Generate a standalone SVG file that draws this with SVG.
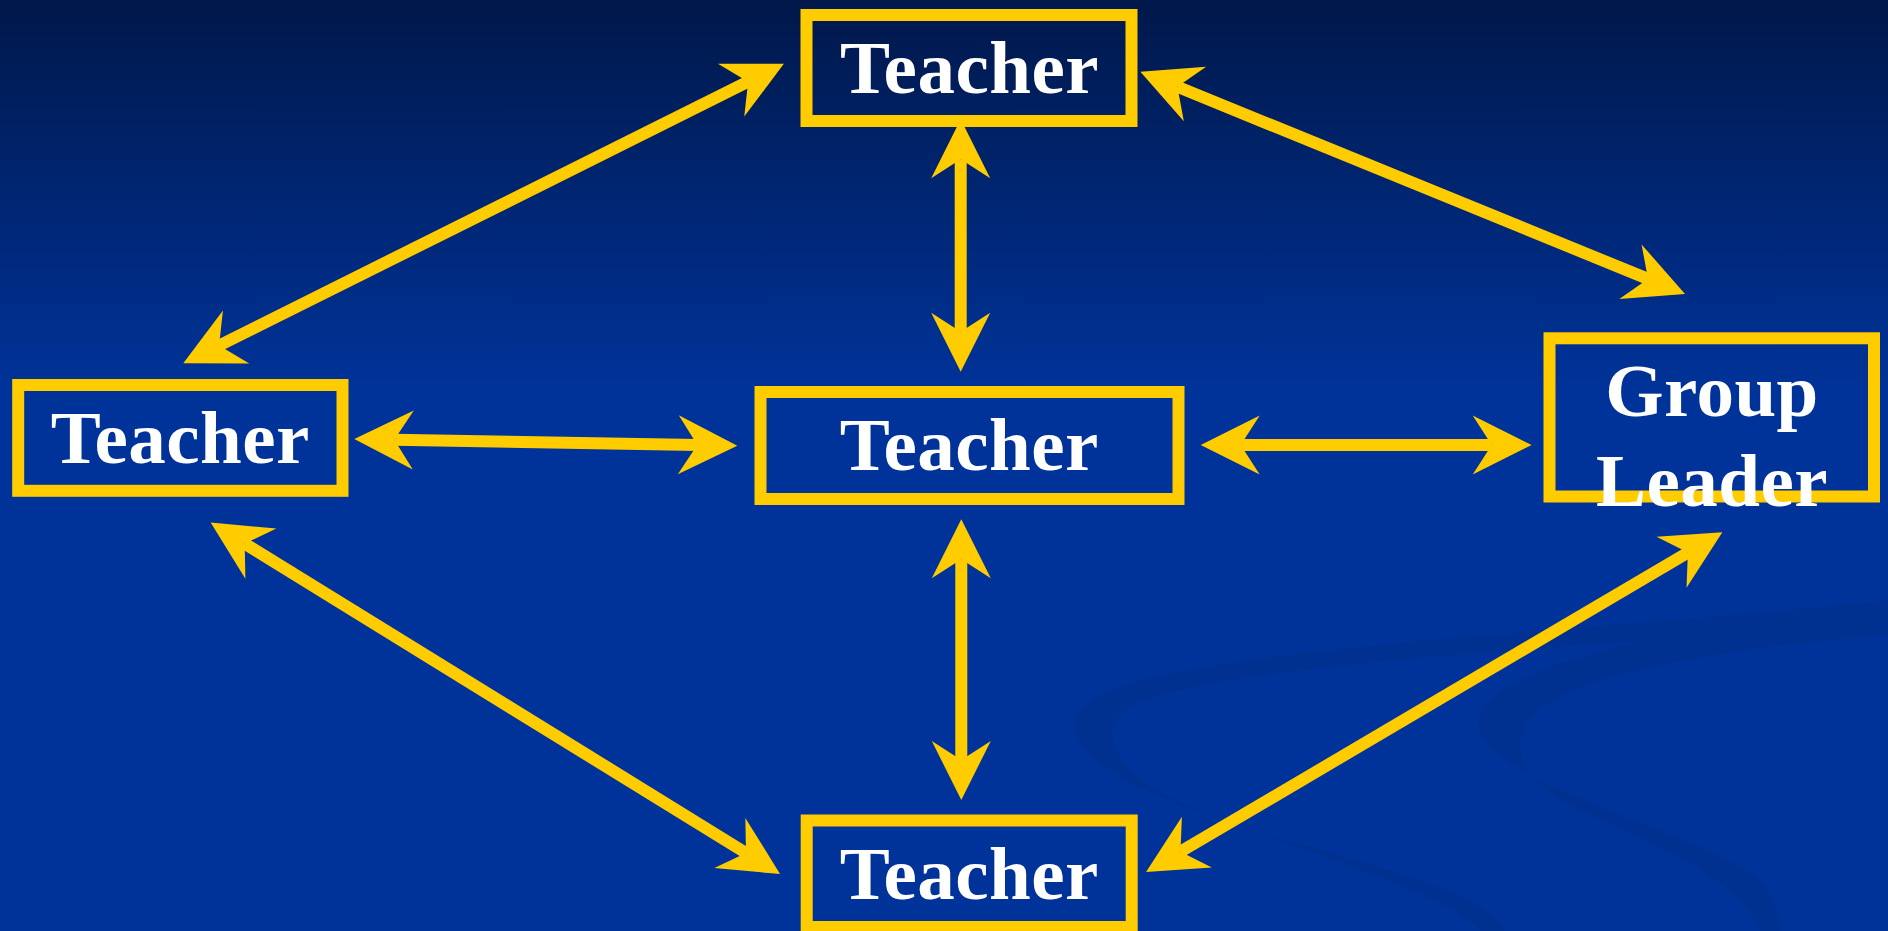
<svg xmlns="http://www.w3.org/2000/svg" width="1888" height="931" viewBox="0 0 1888 931">
  <style>
    .box { fill: none; stroke: #FFCC00; stroke-width: 12; }
    .lbl { font-family: "Liberation Serif", "Times New Roman", serif; font-weight: bold; font-size: 75px; letter-spacing: 0.5px; fill: #FFFFFF; text-anchor: middle; }
    .conn { stroke: #FFCC00; stroke-width: 12; fill: none; marker-start: url(#head); marker-end: url(#head); }
    .swoosh { fill: #003190; }
  </style>
  <defs>
    <linearGradient id="bg" gradientUnits="userSpaceOnUse" x1="0" y1="0" x2="0" y2="931">
      <stop offset="0" stop-color="#00184A"/>
      <stop offset="0.42" stop-color="#003399"/>
      <stop offset="1" stop-color="#003399"/>
    </linearGradient>
    <marker id="head" markerUnits="userSpaceOnUse" orient="auto-start-reverse" refX="0" refY="0" markerWidth="80" markerHeight="80" overflow="visible">
      <path d="M40,0 L-19,-29.5 L0,0 L-19,29.5 Z" fill="#FFCC00"/>
    </marker>
  </defs>

  <rect x="0" y="0" width="1888" height="931" fill="url(#bg)"/>

  <g id="background-swooshes">
    <path class="swoosh" d="M1888,600 C1500,640 1090,650 1075,720 C1065,790 1300,840 1420,880 C1480,900 1500,920 1505,931 L1480,931 C1460,900 1300,850 1200,810 C1120,780 1100,740 1120,715 C1160,670 1500,650 1888,625 Z"/>
    <path class="swoosh" d="M1888,605 C1700,625 1490,660 1478,720 C1470,780 1700,830 1760,880 C1775,900 1780,920 1782,931 L1760,931 C1750,900 1700,860 1600,820 C1530,790 1510,760 1525,725 C1550,680 1700,650 1888,635 Z"/>
  </g>

  <g id="connectors">
    <line class="conn" x1="1240.7" y1="445" x2="1491.7" y2="445"/>
    <line class="conn" x1="394.3" y1="439.7" x2="697.3" y2="445"/>
    <line class="conn" x1="960.7" y1="159.3" x2="960.7" y2="331.7"/>
    <line class="conn" x1="961.3" y1="559.3" x2="961.3" y2="760"/>
    <line class="conn" x1="1177.4" y1="86.8" x2="1648" y2="278.9"/>
    <line class="conn" x1="748.1" y1="81.7" x2="219.1" y2="345.5"/>
    <line class="conn" x1="244.7" y1="543.6" x2="746" y2="853"/>
    <line class="conn" x1="1687.9" y1="552.6" x2="1180.5" y2="851.7"/>
  </g>

  <g id="teacher-top">
    <rect class="box" x="806.5" y="15" width="325" height="106"/>
    <text class="lbl" x="969.5" y="93.3">Teacher</text>
  </g>
  <g id="teacher-left">
    <rect class="box" x="18.2" y="385" width="324.3" height="105.8"/>
    <text class="lbl" x="180.3" y="462.7">Teacher</text>
  </g>
  <g id="teacher-center">
    <rect class="box" x="760.5" y="392" width="418" height="107"/>
    <text class="lbl" x="969.3" y="470">Teacher</text>
  </g>
  <g id="group-leader">
    <rect class="box" x="1549.5" y="338.3" width="324.5" height="158.2"/>
    <text class="lbl" x="1712" y="416">Group</text>
    <text class="lbl" x="1712" y="506">Leader</text>
  </g>
  <g id="teacher-bottom">
    <rect class="box" x="806.7" y="820.5" width="325" height="106.5"/>
    <text class="lbl" x="969.3" y="899.3">Teacher</text>
  </g>
</svg>
